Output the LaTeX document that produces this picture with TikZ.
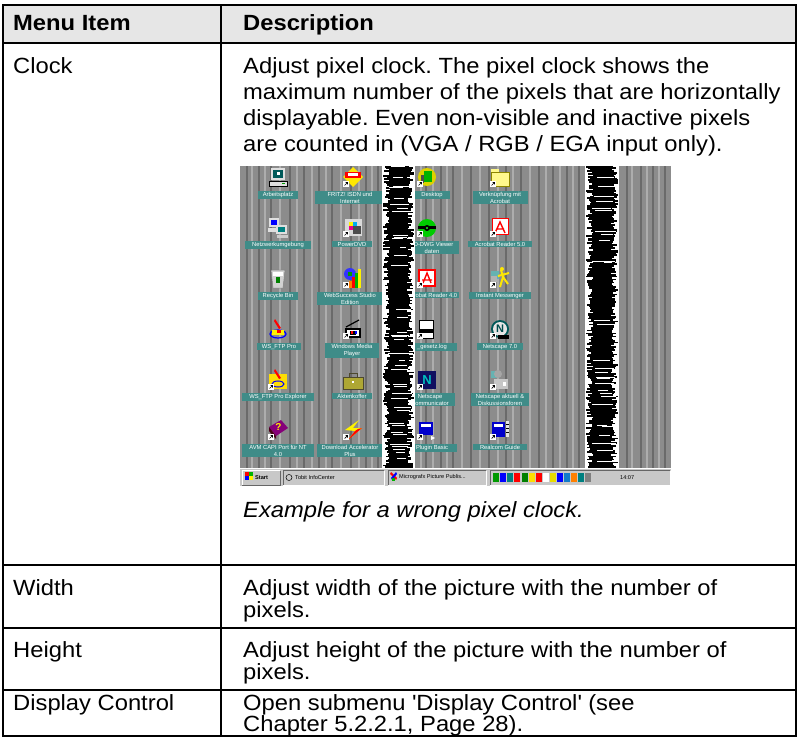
\documentclass[tikz,border=0pt]{standalone}
\usepackage{fontspec}
\setmainfont{Liberation Sans}[FakeStretch=1.08]
\newfontfamily\smallsans{Liberation Sans}
\definecolor{hdrfill}{HTML}{E6E6E6}
\definecolor{desk}{HTML}{8C8C8C}
\definecolor{stripeD}{HTML}{6A6A6A}
\definecolor{stripeL}{HTML}{ADADAD}
\definecolor{lblteal}{HTML}{3F8C88}
\definecolor{taskgray}{HTML}{C8C8C8}
\definecolor{navy}{HTML}{101060}
\newcommand\shortcutmark{\fill[white] (-10,3) rectangle (-4,9); \draw[black,line width=0.7pt] (-8.5,7.5) -- (-5.5,4.5) (-7.5,4.5) -- (-5.5,4.5) -- (-5.5,6.5);}
\frenchspacing
\begin{document}
\frenchspacing
\begin{tikzpicture}[x=1pt,y=-1pt,
  txt/.style={anchor=base west,inner sep=0pt,font=\frenchspacing\fontsize{22}{23}\selectfont},
  hdr/.style={txt,font=\bfseries\fontsize{22}{23}\selectfont},
  ital/.style={txt,font=\itshape\fontsize{22}{23}\selectfont},
  grid/.style={line width=2pt,black},
  lbl/.style={fill=lblteal,text=white,font=\smallsans\fontsize{5.8}{7}\selectfont,inner sep=1pt,align=center,anchor=north},
  tb/.style={font=\smallsans\fontsize{5.6}{7}\selectfont,text=black,inner sep=0pt,anchor=west},
]
\useasboundingbox (0,0) rectangle (798,738);
\fill[white] (0,0) rectangle (798,738);
\fill[hdrfill] (3,5) rectangle (796,43);

% ---------- header and texts ----------
\node[hdr] (h1) at (13,31) {Menu Item};
\node[hdr] (h2) at (243,31) {Description};

\node[txt] (clock) at (13,74) {Clock};
\node[txt] (d1) at (243,74) {Adjust pixel clock. The pixel clock shows the};
\node[txt] (d2) at (243,100) {maximum number of the pixels that are horizontally};
\node[txt] (d3) at (243,126) {displayable. Even non-visible and inactive pixels};
\node[txt] (d4) at (243,152) {are counted in (VGA / RGB / EGA input only).};
\node[ital] (ex) at (243,517) {Example for a wrong pixel clock.};

\node[txt] (width) at (13,595) {Width};
\node[txt] (w1) at (243,595) {Adjust width of the picture with the number of};
\node[txt] (w2) at (243,617) {pixels.};
\node[txt] (height) at (13,657) {Height};
\node[txt] (g1) at (243,657) {Adjust height of the picture with the number of};
\node[txt] (g2) at (243,679) {pixels.};
\node[txt] (disp) at (13,710) {Display Control};
\node[txt] (c1) at (243,710) {Open submenu \textquotesingle Display Control\textquotesingle{} (see};
\node[txt] (c2) at (243,731) {Chapter 5.2.2.1, Page 28).};

% ---------- screenshot ----------
\fill[desk] (240,166) rectangle (671,468);
\foreach \xx in {246,258,270,289,303,318,331,350,365,377,425,440,452,470,488,505,520,538,552,566,578,626,640,652,664}
  \fill[stripeD] (\xx,166) rectangle (\xx+2,468);
\foreach \xx in {251,264,279,296,311,325,340,358,371,420,432,446,461,479,497,512,529,545,559,572,631,646,658}
  \fill[stripeL] (\xx,166) rectangle (\xx+1.5,468);

% icons row 1
\begin{scope}[shift={(278,178)}]
  \fill[gray!25] (-7,-10) rectangle (7,2); \fill[teal!70!black] (-5,-8) rectangle (5,0);
  \fill[white] (-1,-6) rectangle (2,-3);
  \fill[gray!25] (-9,3) rectangle (9,8); \draw[black,line width=0.5pt] (-9,3) rectangle (9,8);
  \fill[green!60!black] (4,5) rectangle (7,6.5);
\end{scope}
\begin{scope}[shift={(353,178)}]
  \fill[yellow!90!orange] (0,-11) -- (10,-1) -- (0,9) -- (-10,-1) -- cycle;
  \fill[red] (-8,-6) rectangle (8,0); \fill[white] (-5,-4.5) rectangle (5,-2);
  \shortcutmark
\end{scope}
\begin{scope}[shift={(427,178)}]
  \fill[yellow!70!olive] (0,-1) circle[radius=9];
  \fill[green!70!black] (-3,-7) rectangle (5,4); \fill[black!70] (-6,-3) rectangle (-3,5);
  \shortcutmark
\end{scope}
\begin{scope}[shift={(500,178)}]
  \fill[yellow!45] (-9,-6) rectangle (9,8); \fill[yellow!45] (-9,-9) rectangle (-1,-6);
  \draw[olive,line width=0.4pt] (-9,-6) rectangle (9,8);
  \shortcutmark
\end{scope}
% icons row 2
\begin{scope}[shift={(278,228)}]
  \fill[gray!25] (-9,-10) rectangle (1,-1); \fill[blue] (-7,-8) rectangle (-1,-3);
  \fill[gray!25] (-2,-3) rectangle (9,6); \fill[teal] (0,-1) rectangle (7,4);
  \fill[gray!25] (-10,0) rectangle (-2,4); \fill[gray!40] (-1,7) rectangle (10,10);
\end{scope}
\begin{scope}[shift={(353,228)}]
  \fill[gray!30] (-8,-9) rectangle (9,8);
  \fill[yellow] (-4,-6) rectangle (0,-2); \fill[cyan] (0,-6) rectangle (4,-2);
  \fill[magenta] (-4,-2) rectangle (0,2); \fill[black!70] (0,-2) rectangle (8,6);
  \shortcutmark
\end{scope}
\begin{scope}[shift={(427,228)}]
  \fill[green!80!black] (0,0) circle[radius=9]; \fill[black] (-9,-1.5) rectangle (9,1.5);
  \fill[black] (0,0) circle[radius=3]; \fill[green!90] (0,0) circle[radius=1.2];
  \shortcutmark
\end{scope}
\begin{scope}[shift={(500,228)}]
  \fill[white] (-8,-9) rectangle (8,7); \draw[red,line width=1pt] (-8,-9) rectangle (8,7);
  \draw[red,line width=1.4pt] (-5,5) -- (0,-6) -- (5,5) (-3,1) -- (4,1);
  \shortcutmark
\end{scope}
% icons row 3
\begin{scope}[shift={(278,279)}]
  \fill[gray!35] (-7,-9) -- (7,-9) -- (5,9) -- (-5,9) -- cycle;
  \fill[white] (-5,-7) rectangle (5,-3); \fill[green!50!black] (-2,-2) rectangle (2,4);
  \draw[gray,line width=0.5pt] (-7,-9) -- (7,-9) -- (5,9) -- (-5,9) -- cycle;
\end{scope}
\begin{scope}[shift={(353,279)}]
  \fill[blue!80] (-3,-5) circle[radius=6]; \fill[green!60!black] (-5,-7) rectangle (-1,-3);
  \fill[red] (-1,-2) rectangle (2,9); \fill[green!70!black] (2,-6) rectangle (5,9);
  \fill[yellow] (5,-10) rectangle (8,9); \fill[orange] (-4,2) rectangle (-1,9);
  \shortcutmark
\end{scope}
\begin{scope}[shift={(427,279)}]
  \fill[white] (-8,-9) rectangle (8,7); \draw[red,line width=1.2pt] (-8,-9) rectangle (8,7);
  \draw[red,line width=1.4pt] (-4,4) -- (0,-6) -- (4,4) (-5,1) -- (5,1);
  \shortcutmark
\end{scope}
\begin{scope}[shift={(500,279)}]
  \fill[teal!60] (-9,-8) rectangle (-1,0); \fill[gray!60] (-9,-3) rectangle (-3,3);
  \draw[yellow!90!orange,line width=2pt] (1,-9) -- (3,-2) -- (0,8) (3,-2) -- (8,5) (-2,-3) -- (9,-6);
  \fill[yellow!90!orange] (2,-10) circle[radius=2];
  \shortcutmark
\end{scope}
% icons row 4
\begin{scope}[shift={(278,330)}]
  \draw[blue,line width=1.2pt] (0,4) ellipse[x radius=8,y radius=4];
  \fill[yellow] (-6,0) rectangle (6,5);
  \fill[red] (-3,-11) -- (3,-2) -- (1,-1) -- (-4,-9) -- cycle;
  \fill[red] (-1,0) rectangle (3,3);
\end{scope}
\begin{scope}[shift={(353,330)}]
  \fill[black] (-8,-2) rectangle (8,8); \fill[white] (-6,0) rectangle (6,6);
  \fill[black] (-3,1) rectangle (3,5);
  \draw[black,line width=1.2pt] (-7,-3) -- (6,-10);
  \fill[blue] (2,1) rectangle (4,4); \fill[red] (-2,1) rectangle (0,4);
  \shortcutmark
\end{scope}
\begin{scope}[shift={(427,330)}]
  \fill[white] (-8,-10) rectangle (6,8); \draw[black,line width=0.4pt] (-8,-10) rectangle (6,8);
  \fill[black] (-8,-1) rectangle (6,3);
  \shortcutmark
\end{scope}
\begin{scope}[shift={(500,330)}]
  \fill[teal!70!black] (0,-1) circle[radius=9]; \fill[gray!20] (0,-1) circle[radius=7];
  \node[font=\smallsans\bfseries\fontsize{11}{11}\selectfont,text=teal!60!black,inner sep=0pt] (nsA) at (0,-1) {N};
  \fill[black] (-2,5) rectangle (9,9);
  \shortcutmark
\end{scope}
% icons row 5
\begin{scope}[shift={(278,381)}]
  \fill[yellow!80!orange] (-9,-7) rectangle (9,8);
  \fill[red] (-3,-12) -- (3,-3) -- (1,-2) -- (-4,-10) -- cycle;
  \draw[blue,line width=1pt] (0,3) ellipse[x radius=6,y radius=3];
  \shortcutmark
\end{scope}
\begin{scope}[shift={(353,381)}]
  \fill[olive!60!yellow!70!gray] (-10,-4) rectangle (10,8);
  \draw[olive!40!black,line width=1pt] (-4,-4) -- (-4,-8) -- (4,-8) -- (4,-4);
  \draw[olive!40!black,line width=0.5pt] (-10,-4) rectangle (10,8);
  \fill[white] (-1,0) rectangle (1,2);
\end{scope}
\begin{scope}[shift={(427,381)}]
  \fill[navy] (-9,-10) rectangle (9,8);
  \node[font=\smallsans\bfseries\fontsize{13}{13}\selectfont,text=teal!50!cyan,inner sep=0pt] (nsB) at (0,-1) {N};
  \shortcutmark
\end{scope}
\begin{scope}[shift={(500,381)}]
  \fill[gray!45] (-6,-2) rectangle (8,8); \fill[teal!60] (-9,-10) rectangle (-1,-3);
  \fill[gray!70] (-2,-7) circle[radius=4]; \fill[white] (3,1) rectangle (6,5);
  \shortcutmark
\end{scope}
% icons row 6
\begin{scope}[shift={(278,431)}]
  \fill[purple!70!blue] (-9,-4) -- (3,-11) -- (10,-3) -- (-2,5) -- cycle;
  \fill[purple!40!black] (-9,-4) -- (-2,5) -- (-2,8) -- (-9,0) -- cycle;
  \node[font=\smallsans\bfseries\fontsize{10}{10}\selectfont,text=yellow,inner sep=0pt] (qm) at (0.5,-3.5) {?};
  \shortcutmark
\end{scope}
\begin{scope}[shift={(353,431)}]
  \fill[yellow] (6,-11) -- (-8,-1) -- (2,0) -- (-5,9) -- (9,-3) -- (0,-3) -- cycle;
  \fill[red] (2,0) -- (-5,9) -- (9,-3) -- (5,-2) -- cycle;
  \shortcutmark
\end{scope}
\begin{scope}[shift={(427,431)}]
  \fill[blue!80!black] (-8,-9) rectangle (6,4); \fill[white] (-6,-7) rectangle (4,-4);
  \fill[white] (4,5) -- (8,7) -- (4,9) -- cycle;
  \shortcutmark
\end{scope}
\begin{scope}[shift={(500,431)}]
  \fill[blue!80!black] (-8,-9) rectangle (5,6); \fill[white] (-6,-7) rectangle (3,-4);
  \fill[gray!20] (6,-10) rectangle (9,6); \draw[black,line width=0.4pt] (6,-7) -- (9,-7) (6,-3) -- (9,-3) (6,1) -- (9,1);
  \shortcutmark
\end{scope}

% labels
\node[lbl,minimum width=40] (l11) at (278,191) {Arbeitsplatz};
\node[lbl,minimum width=70] (l12) at (350,191) {FRITZ! ISDN und\\Internet};
\node[lbl,minimum width=36] (l13) at (432,191) {Desktop};
\node[lbl,minimum width=55] (l14) at (500,191) {Verknüpfung mit\\Acrobat};
\node[lbl,minimum width=66] (l21) at (278,241) {Netzwerkumgebung};
\node[lbl,minimum width=40] (l22) at (352,241) {PowerDVD};
\node[lbl,minimum width=54] (l23) at (432,241) {3D-DWG Viewer\\daten};
\node[lbl,minimum width=64] (l24) at (500,241) {Acrobat Reader 5.0};
\node[lbl,minimum width=40] (l31) at (278,292) {Recycle Bin};
\node[lbl,minimum width=66] (l32) at (350,292) {WebSuccess Studio\\Edition};
\node[lbl,minimum width=54] (l33) at (432,292) {Acrobat Reader 4.0};
\node[lbl,minimum width=62] (l34) at (500,292) {Instant Messenger};
\node[lbl,minimum width=44] (l41) at (279,343) {WS\_FTP Pro};
\node[lbl,minimum width=54] (l42) at (352,343) {Windows Media\\Player};
\node[lbl,minimum width=50] (l43) at (432,343) {\_gesetz.log};
\node[lbl,minimum width=46] (l44) at (500,343) {Netscape 7.0};
\node[lbl,minimum width=72] (l51) at (278,393) {WS\_FTP Pro Explorer};
\node[lbl,minimum width=40] (l52) at (352,393) {Aktenkoffer};
\node[lbl,minimum width=50] (l53) at (430,393) {Netscape\\Communicator};
\node[lbl,minimum width=58] (l54) at (500,393) {Netscape aktuell \&\\Diskussionsforen};
\node[lbl,minimum width=72] (l61) at (278,444) {AVM CAPI Port für NT\\4.0};
\node[lbl,minimum width=66] (l62) at (350,444) {Download Accelerator\\Plus};
\node[lbl,minimum width=50] (l63) at (432,444) {Plugin Basic};
\node[lbl,minimum width=54] (l64) at (500,444) {Realcom Guide};

% noise bands
\pgfmathsetseed{4321}
\fill[white] (382,166) rectangle (415,468);
\fill[white] (585,166) rectangle (619,468);
\foreach \yy in {166,167.5,...,466.5} {
  \pgfmathsetmacro\la{383+rnd*7}
  \pgfmathsetmacro\ra{414-rnd*7}
  \fill[black] (\la,\yy) rectangle (\ra,\yy+1.8);
  \pgfmathtruncatemacro\wz{rnd*6}
  \ifnum\wz=0 \fill[white] ({\la+3+rnd*8},\yy+0.5) rectangle ({\ra-rnd*6},\yy+1.2); \fi
  \pgfmathsetmacro\lb{586+rnd*7}
  \pgfmathsetmacro\rb{618-rnd*7}
  \fill[black] (\lb,\yy) rectangle (\rb,\yy+1.8);
  \pgfmathtruncatemacro\wy{rnd*6}
  \ifnum\wy=0 \fill[white] ({\lb+3+rnd*8},\yy+0.5) rectangle ({\rb-rnd*6},\yy+1.2); \fi
}

% taskbar
\fill[taskgray] (240,468) rectangle (671,486);
\draw[white,line width=0.8pt] (240,468.6) -- (671,468.6);
\draw[white,line width=0.6pt] (242,485) -- (242,470.5) -- (280,470.5);
\draw[black!60,line width=0.6pt] (280,470.5) -- (280,485) -- (242,485);
\fill[red] (245,472) rectangle (249,476); \fill[green!70!black] (249,472) rectangle (253,476);
\fill[blue] (245,476) rectangle (249,480); \fill[yellow] (249,476) rectangle (253,480);
\node[tb,font=\smallsans\bfseries\fontsize{5.6}{7}\selectfont] (startb) at (255,477.5) {Start};
\draw[black!60,line width=0.6pt] (283,485) -- (283,470.5) -- (384,470.5);
\draw[white,line width=0.6pt] (384,470.5) -- (384,485) -- (283,485);
\draw[black,line width=0.5pt] (289,477.5) circle[radius=3];
\node[tb] (tobit) at (295,477.5) {Tobit InfoCenter};
\draw[black!60,line width=0.6pt] (388,485) -- (388,470.5) -- (486,470.5);
\draw[white,line width=0.6pt] (486,470.5) -- (486,485) -- (388,485);
\fill[red] (391,472) -- (397,478) -- (396,480) -- (390,474) -- cycle;
\fill[blue] (396,472) -- (391,478) -- (392,480) -- (397,474) -- cycle;
\fill[green!70!black] (392,478) rectangle (395,481);
\node[tb] (micro) at (399,477.5) {Micrografx Picture Publis...};
\draw[black!60,line width=0.6pt] (490,485) -- (490,470.5) -- (670,470.5);
\draw[white,line width=0.6pt] (670,470.5) -- (670,485) -- (490,485);
\foreach \xx/\cc in {493/green!60!black,500/blue,507/teal,514/red,522/green!50!black,529/yellow!80!orange,536/red,543/white,550/yellow!80!olive,557/blue,564/cyan!60!blue,571/orange,578/teal,585/gray}
  \fill[\cc] (\xx,473) rectangle (\xx+5.5,482);
\node[tb] (clk) at (620,477.5) {14:07};

% table grid
\draw[grid] (3,5) rectangle (796,736);
\draw[grid] (3,43) -- (796,43);
\draw[grid] (3,565) -- (796,565);
\draw[grid] (3,628) -- (796,628);
\draw[grid] (3,690) -- (796,690);
\draw[grid] (221,5) -- (221,736);
\end{tikzpicture}
\end{document}
